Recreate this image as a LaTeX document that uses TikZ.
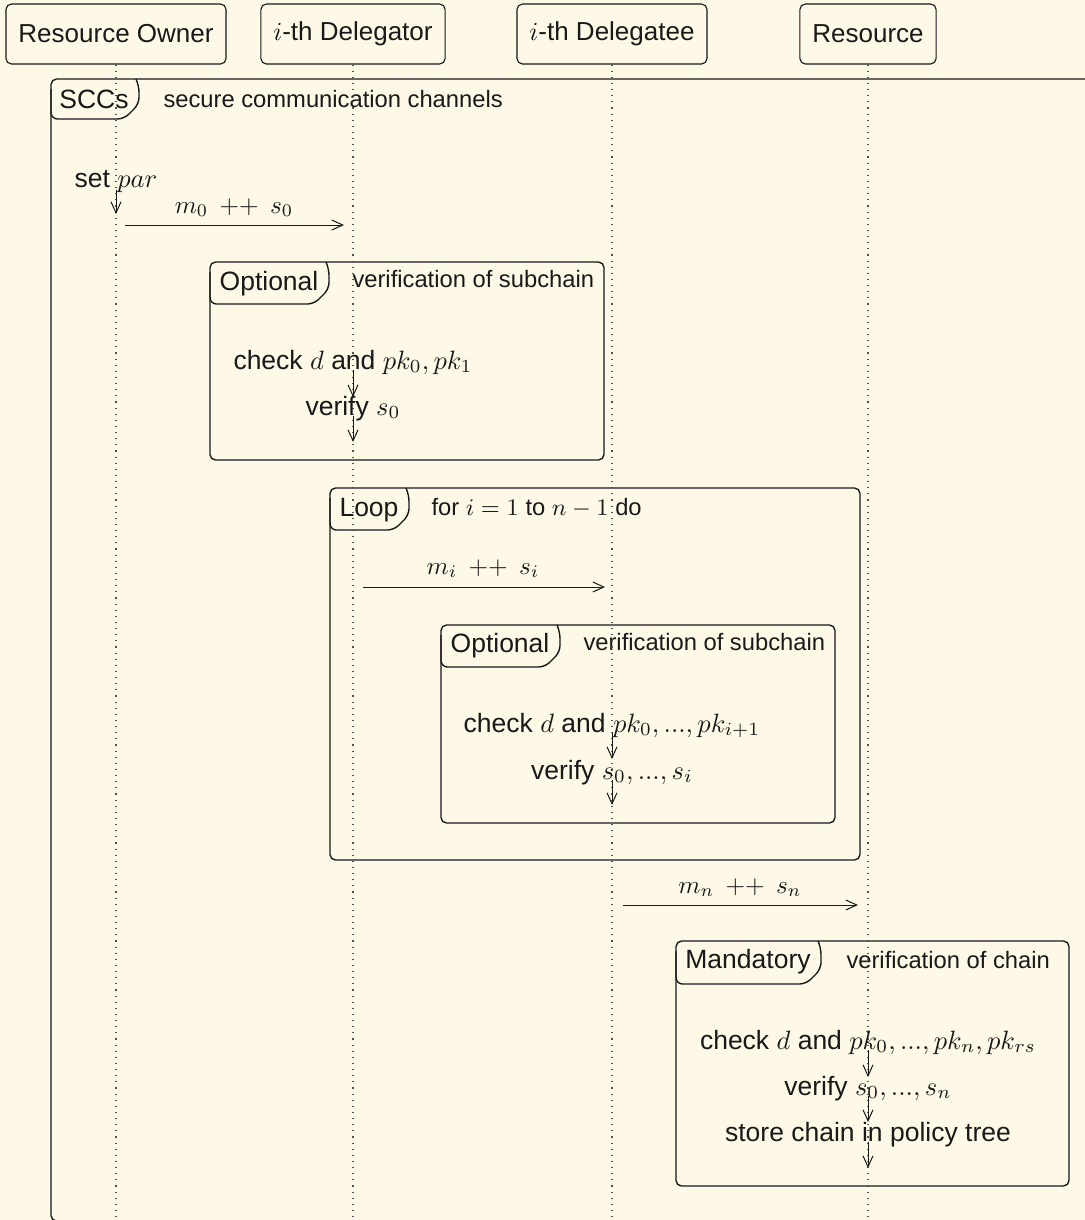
\RequirePackage{fix-cm}
\documentclass[tikz,border=0pt]{standalone}
\usepackage{fontspec}
\setmainfont{Liberation Sans}
\usetikzlibrary{arrows.meta}

\definecolor{paper}{RGB}{254,248,230}
\definecolor{ink}{RGB}{25,25,25}
\definecolor{lifegray}{RGB}{80,80,80}

% tab of a combined fragment: left x, top y, right x, bottom y
\newcommand{\drawtab}[4]{%
  \draw[framebox, rounded corners=2.6pt]
    (#1,#2+10) -- (#1,#4) -- (#3-15,#4) -- (#3,#4-15) -- (#3,#2+7) -- (#3-3,#2);}

\begin{document}
\begin{tikzpicture}[x=0.4pt,y=-0.4pt,
  every node/.style={text=ink},
  actor/.style={draw=ink, line width=0.45pt, rounded corners=2.2pt,
    minimum height=24pt, inner xsep=5pt, font=\fontsize{10.4}{12}\selectfont},
  lifeline/.style={draw=lifegray, dotted, line width=0.45pt},
  framebox/.style={draw=ink, line width=0.55pt},
  fragment/.style={framebox, rounded corners=2.2pt},
  tabname/.style={font=\fontsize{10.6}{12}\selectfont, anchor=base, inner sep=0pt},
  tabnote/.style={font=\fontsize{9.5}{11}\selectfont, anchor=base west, inner sep=0pt},
  stepnote/.style={font=\fontsize{10.6}{12}\selectfont, anchor=base, inner sep=0pt},
  msglabel/.style={font=\fontsize{10.1}{12}\selectfont, anchor=base, inner sep=0pt},
  msg/.style={draw=ink, line width=0.4pt, -{Straight Barb[length=4.4pt,width=4pt]}}
]
\fill[paper] (0,0) rectangle (1085,1220);
\useasboundingbox (0,0) rectangle (1085,1220);
\clip (0,0) rectangle (1085,1220);

% participants
\node[actor] (owner) at (116,34) {Resource Owner};
\node[actor] (dgr)   at (353,34) {$i$-th Delegator};
\node[actor] (dge)   at (612,34) {$i$-th Delegatee};
\node[actor] (res)   at (868,34) {Resource};

% combined fragments
\draw[fragment] (51,79) rectangle (1110,1221);
\drawtab{51}{79}{139}{119}
\node[tabname] (sccs) at (94,108) {SCCs};
\node[tabnote] (sccsnote) at (163,107) {secure communication channels};

\draw[fragment] (210,262) rectangle (604,460);
\drawtab{210}{262}{329}{304}
\node[tabname] (opt1) at (269,290) {Optional};
\node[tabnote] (opt1note) at (352,287) {verification of subchain};

\draw[fragment] (330,488) rectangle (860,860);
\drawtab{330}{488}{409}{530}
\node[tabname] (loop) at (369,516) {Loop};
\node[tabnote] (loopnote) at (431,515) {for $i = 1$ to $n - 1$ do};

\draw[fragment] (441,625) rectangle (835,823);
\drawtab{441}{625}{560}{667}
\node[tabname] (opt2) at (500,652) {Optional};
\node[tabnote] (opt2note) at (583,650) {verification of subchain};

\draw[fragment] (676,941) rectangle (1069,1186);
\drawtab{676}{941}{821}{984}
\node[tabname] (mand) at (748,968) {Mandatory};
\node[tabnote] (mandnote) at (846,968) {verification of chain};

% lifelines
\coordinate (ownerEnd) at (116,1220);
\coordinate (dgrEnd) at (353,1220);
\coordinate (dgeEnd) at (612,1220);
\coordinate (resEnd) at (868,1220);
\draw[lifeline] (owner.south) -- (ownerEnd);
\draw[lifeline] (dgr.south) -- (dgrEnd);
\draw[lifeline] (dge.south) -- (dgeEnd);
\draw[lifeline] (res.south) -- (resEnd);

% resource owner
\node[stepnote] (setpar) at (116,187) {set $par$};
\coordinate (sp1) at (116,190); \coordinate (sp2) at (116,214);
\draw[msg] (sp1) -- (sp2);

% first delegation
\coordinate (m0a) at (116,225); \coordinate (m0b) at (353,225);
\draw[msg, shorten <=3.6pt, shorten >=3.6pt] (m0a) -- (m0b);
\node[msglabel] (m0lbl) at (234,213) {$m_0\mkern8mu{+}{+}\mkern8mu s_0$};

\node[stepnote] (chk1) at (353,369) {check $d$ and $pk_0, pk_1$};
\coordinate (c1a) at (353,370); \coordinate (c1b) at (353,397);
\draw[msg] (c1a) -- (c1b);
\node[stepnote] (ver1) at (353,415) {verify $s_0$};
\coordinate (v1a) at (353,416); \coordinate (v1b) at (353,442);
\draw[msg] (v1a) -- (v1b);

% loop over the chain
\coordinate (mia) at (353,587); \coordinate (mib) at (612,587);
\draw[msg, shorten <=4pt, shorten >=2.8pt] (mia) -- (mib);
\node[msglabel] (milbl) at (483,574) {$m_i\mkern8mu{+}{+}\mkern8mu s_i$};

\node[stepnote] (chk2) at (612,732) {check $d$ and $pk_0, ..., pk_{i+1}$};
\coordinate (c2a) at (612,733); \coordinate (c2b) at (612,759);
\draw[msg] (c2a) -- (c2b);
\node[stepnote] (ver2) at (612,779) {verify $s_0, ..., s_i$};
\coordinate (v2a) at (612,780); \coordinate (v2b) at (612,805);
\draw[msg] (v2a) -- (v2b);

% last delegation
\coordinate (mna) at (612,905); \coordinate (mnb) at (868,905);
\draw[msg, shorten <=4.4pt, shorten >=4pt] (mna) -- (mnb);
\node[msglabel] (mnlbl) at (740,893) {$m_n\mkern8mu{+}{+}\mkern8mu s_n$};

\node[stepnote] (chk3) at (868,1049) {check $d$ and $pk_0, ..., pk_n, pk_{rs}$};
\coordinate (c3a) at (868,1050); \coordinate (c3b) at (868,1077);
\draw[msg] (c3a) -- (c3b);
\node[stepnote] (ver3) at (868,1095) {verify $s_0, ..., s_n$};
\coordinate (v3a) at (868,1096); \coordinate (v3b) at (868,1122);
\draw[msg] (v3a) -- (v3b);
\node[stepnote] (store) at (868,1141) {store chain in policy tree};
\coordinate (s3a) at (868,1142); \coordinate (s3b) at (868,1168);
\draw[msg] (s3a) -- (s3b);
\end{tikzpicture}
\end{document}
